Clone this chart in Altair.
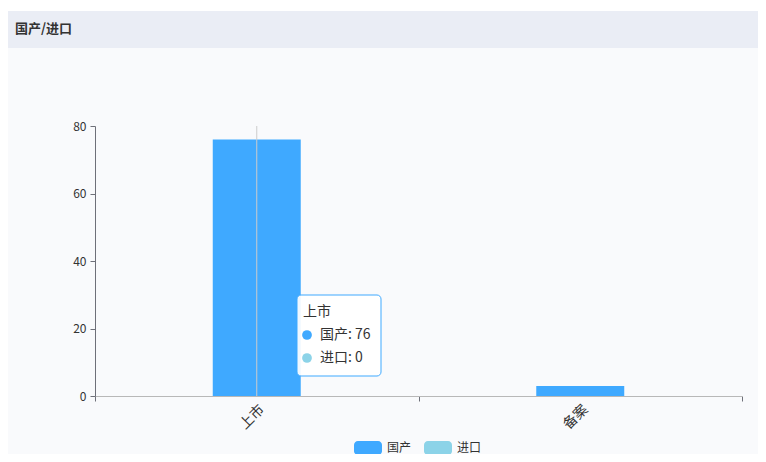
import pandas as pd
import altair as alt

categories = ["上市", "备案"]
domestic = [76, 3]
imported = [0, 0]
series = ["国产", "进口"]
colors = ["#3fa9ff", "#8cd3e8"]
y_ticks = [0, 20, 40, 60, 80]

title_text = "国产/进口"
hover = "上市"

W, H = 647, 270
FONT = "Noto Sans CJK SC"

rows = []
for i, c in enumerate(categories):
    rows.append({"category": c, "series": series[0], "value": domestic[i], "order": 0})
    rows.append({"category": c, "series": series[1], "value": imported[i], "order": 1})
df = pd.DataFrame(rows)

one = pd.DataFrame([{"k": 0}])

legend_path = ("M-0.72,-0.5H0.72A0.28,0.28 0 0 1 1,-0.22V0.22A0.28,0.28 0 0 1 0.72,0.5"
               "H-0.72A0.28,0.28 0 0 1 -1,0.22V-0.22A0.28,0.28 0 0 1 -0.72,-0.5Z")

x = alt.X("category:N", sort=categories, title=None,
          scale=alt.Scale(paddingInner=0, paddingOuter=0),
          axis=alt.Axis(labelAngle=-45, tickBand="extent", domainColor="#b8b8b8",
                        tickColor="#6e7079", tickSize=5, labelColor="#333",
                        labelFontSize=14, labelPadding=1, labelFont=FONT, zindex=1))
y = alt.Y("value:Q", title=None, stack="zero",
          scale=alt.Scale(domain=[0, 80], nice=False),
          axis=alt.Axis(values=y_ticks, grid=False, domainColor="#6e7079",
                        tickColor="#6e7079", tickSize=5, labelColor="#333",
                        labelFontSize=12, labelPadding=4, labelFont=FONT, zindex=1))
color = alt.Color("series:N", sort=series,
                  scale=alt.Scale(domain=series, range=colors),
                  legend=alt.Legend(title=None, orient="none", legendX=259, legendY=308,
                                    direction="horizontal", symbolType=legend_path,
                                    symbolSize=784, symbolStrokeWidth=0, symbolOpacity=1,
                                    labelFontSize=12, labelColor="#333", labelFont=FONT,
                                    labelOffset=5, columnPadding=12, zindex=1))

body = alt.Chart(one).mark_rect(color="#f9fafc").encode(
    x=alt.value(-87), x2=alt.value(663), y=alt.value(-115), y2=alt.value(336))
header = alt.Chart(one).mark_rect(color="#eaedf5").encode(
    x=alt.value(-87), x2=alt.value(663), y=alt.value(-115), y2=alt.value(-78))
title = alt.Chart(one).mark_text(text=title_text, align="left", baseline="middle",
                                 fontSize=13, fontWeight="bold", color="#333", font=FONT).encode(
    x=alt.value(-80), y=alt.value(-97))

bars = alt.Chart(df).mark_bar(width=alt.RelativeBandSize(0.272)).encode(
    x=x, y=y, color=color, order=alt.Order("order:Q"))

pointer = alt.Chart(df).transform_filter(
    (alt.datum.category == hover) & (alt.datum.order == 0)
).mark_rule(color="#cccccc", strokeWidth=1).encode(
    x=alt.X("category:N", sort=categories), y=alt.value(0), y2=alt.value(H))

tip_box = alt.Chart(one).mark_rect(fill="white", fillOpacity=0.92, stroke=colors[0],
                                   strokeWidth=1, cornerRadius=4).encode(
    x=alt.value(202), x2=alt.value(286), y=alt.value(169), y2=alt.value(250))
tip_head = alt.Chart(one).mark_text(text=hover, align="left", baseline="middle",
                                    fontSize=14, color="#333", font=FONT).encode(
    x=alt.value(208), y=alt.value(186))

tip_layers = []
hover_idx = categories.index(hover)
tip_values = [domestic[hover_idx], imported[hover_idx]]
for i, s in enumerate(series):
    yy = 209 + 23 * i
    tip_layers.append(alt.Chart(one).mark_circle(color=colors[i], opacity=1, size=95).encode(
        x=alt.value(212), y=alt.value(yy)))
    tip_layers.append(alt.Chart(one).mark_text(text=f"{s}: {tip_values[i]}", align="left",
                                               baseline="middle", fontSize=14, color="#333",
                                               font=FONT).encode(
        x=alt.value(225), y=alt.value(yy)))

chart = alt.layer(body, header, title, bars, pointer, tip_box, tip_head, *tip_layers).properties(
    width=W, height=H,
    autosize=alt.AutoSizeParams(type="none"),
    padding={"left": 87, "top": 118, "right": 16, "bottom": 58},
).configure(background="white", font=FONT).configure_view(stroke=None)

chart.save("out.html", embed_options={"renderer": "svg", "actions": False})
